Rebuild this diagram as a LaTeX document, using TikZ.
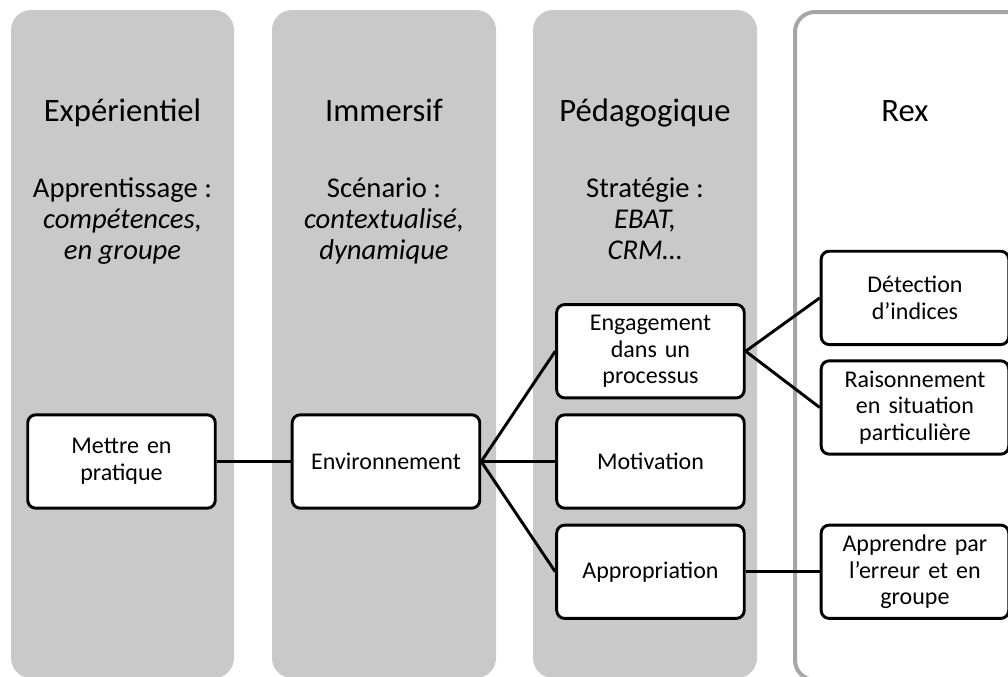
\documentclass[tikz,border=0pt]{standalone}
\usepackage{fontspec}
\setmainfont{Carlito}
\usetikzlibrary{positioning}
\definecolor{panelgray}{RGB}{201,201,201}
\definecolor{rexgray}{RGB}{166,166,166}
\tikzset{panel/.style={fill=panelgray,rounded corners=15pt}}
\tikzset{rexpanel/.style={draw=rexgray,line width=3pt,fill=white,rounded corners=15pt}}
\tikzset{stage/.style={rectangle,rounded corners=6pt,draw=black,fill=white,line width=2.2pt,minimum width=140pt,minimum height=70pt,text width=134pt,align=center,font=\fontsize{18}{20}\selectfont}}
\tikzset{heading/.style={font=\fontsize{24.5}{27}\selectfont,anchor=base}}
\tikzset{subheading/.style={font=\fontsize{21.5}{23.25}\selectfont,align=center,anchor=base}}
\tikzset{link/.style={line width=2.2pt}}

\begin{document}
\begin{tikzpicture}[x=0.75pt,y=-0.75pt]
\useasboundingbox (0,0) rectangle (1008,676);
% columns
\fill[panel] (11,10) rectangle (234,678);
\fill[panel] (272,10) rectangle (496,678);
\fill[panel] (533,10) rectangle (757,678);
\draw[rexpanel] (795,12) rectangle (1040,680);
% headings
\node (h1) [heading] at (122.5,121) {Expérientiel};
\node (h2) [heading] at (384,121) {Immersif};
\node (h3) [heading] at (645,121) {Pédagogique};
\node (h4) [heading] at (905,121) {Rex};
% base = last line
\node (s1) [subheading] at (122.5,259) {Apprentissage :\\\textit{compétences,}\\\textit{en groupe}};
\node (s2) [subheading] at (384,259) {Scénario :\\\textit{contextualisé,}\\\textit{dynamique}};
\node (s3) [subheading] at (645,259) {Stratégie :\\\textit{EBAT,}\\\textit{CRM…}};
% boxes
\begin{scope}[node distance=55.5pt]
	\node (mettre) [stage] at (121.5,461.5) {Mettre en\\pratique};
	\node (env) [stage, right =of mettre] {Environnement};
	\node (motiv) [stage, right =of env] {Motivation};
	\node (engag) [stage, above =10.5pt of motiv] {Engagement\\dans un\\processus};
	\node (approp) [stage, below =10.5pt of motiv] {Appropriation};
	\node (detect) [stage, right =of engag, yshift=40pt] {Détection\\d’indices};
	\node (raison) [stage, below =10pt of detect] {Raisonnement\\en situation\\particulière};
	\node (apprendre) [stage, right =of approp] {Apprendre par\\l’erreur et en\\groupe};
\end{scope}
% links
\draw[link] (mettre) -- (env);
\draw[link] (env.east) -- (engag.west);
\draw[link] (env.east) -- (motiv.west);
\draw[link] (env.east) -- (approp.west);
\draw[link] (engag.east) -- (detect.west);
\draw[link] (engag.east) -- (raison.west);
\draw[link] (approp) -- (apprendre);
\end{tikzpicture}
\end{document}
